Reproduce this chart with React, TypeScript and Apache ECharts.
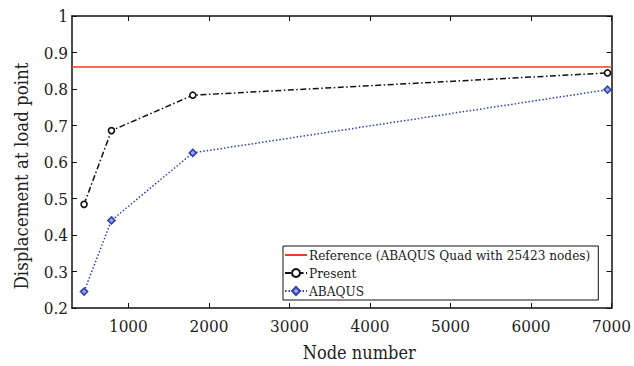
import React, { useEffect, useRef } from "react";
import * as echarts from "echarts";

const nodeNumbers = [450, 790, 1800, 6950];
const presentValues = [0.484, 0.686, 0.783, 0.844];
const abaqusValues = [0.245, 0.44, 0.625, 0.798];
const referenceX = [300, 7000];
const referenceValue = 0.86;
const xTicks = [1000, 2000, 3000, 4000, 5000, 6000, 7000];
const seriesNames = ["Reference (ABAQUS Quad with 25423 nodes)", "Present", "ABAQUS"];
const xName = "Node number";
const yName = "Displacement at load point";

const FONT = "DejaVu Serif Condensed";

export default function App() {
  const ref = useRef<HTMLDivElement>(null);
  useEffect(() => {
    if (!ref.current) return;
    const chart = echarts.init(ref.current, undefined, { renderer: "svg" });
    const axisLine = { show: true, lineStyle: { color: "#111", width: 1.5 } };
    const tick = { show: true, inside: true, length: 5, lineStyle: { color: "#111", width: 1 } };
    chart.setOption({
      animation: false,
      backgroundColor: "#fff",
      textStyle: { fontFamily: FONT },
      grid: { left: 72, right: 22, top: 16, bottom: 54, containLabel: false },
      legend: {
        orient: "vertical",
        left: 283,
        top: 246,
        padding: [2, 8, 2, 1],
        itemGap: 4,
        itemWidth: 22,
        itemHeight: 10,
        backgroundColor: "#fff",
        borderColor: "#111",
        borderWidth: 1,
        borderRadius: 0,
        textStyle: { fontFamily: FONT, fontSize: 13.5, color: "#222", padding: [0, 0, 0, -3] },
        data: [
          { name: seriesNames[0], itemStyle: { opacity: 0 } },
          { name: seriesNames[1] },
          { name: seriesNames[2] },
        ],
      },
      xAxis: [
        {
          type: "value",
          min: 300,
          max: 7000,
          name: xName,
          nameLocation: "middle",
          nameGap: 35,
          nameTextStyle: { fontFamily: FONT, fontSize: 18, color: "#222", padding: [0, 0, 0, 35] },
          axisLine,
          axisTick: { ...tick, customValues: xTicks },
          axisLabel: {
            customValues: xTicks,
            fontFamily: FONT,
            fontSize: 17,
            color: "#222",
            margin: 9,
            formatter: (v: number) => String(v),
          },
          splitLine: { show: false },
        },
        {
          type: "value",
          position: "top",
          min: 300,
          max: 7000,
          axisLine,
          axisTick: { ...tick, customValues: xTicks },
          axisLabel: { show: false },
          splitLine: { show: false },
        },
      ],
      yAxis: [
        {
          type: "value",
          min: 0.2,
          max: 1,
          interval: 0.1,
          name: yName,
          nameLocation: "middle",
          nameGap: 41,
          nameRotate: 90,
          nameTextStyle: { fontFamily: FONT, fontSize: 18.5, color: "#222", padding: [0, 28, 0, 0] },
          axisLine,
          axisTick: tick,
          axisLabel: {
            fontFamily: FONT,
            fontSize: 17,
            color: "#222",
            margin: 4,
            formatter: (v: number) => (Math.abs(v - 1) < 1e-9 ? "1" : v.toFixed(1)),
          },
          splitLine: { show: false },
        },
        {
          type: "value",
          position: "right",
          min: 0.2,
          max: 1,
          interval: 0.1,
          axisLine,
          axisTick: tick,
          axisLabel: { show: false },
          splitLine: { show: false },
        },
      ],
      series: [
        {
          name: seriesNames[0],
          type: "line",
          data: referenceX.map((x) => [x, referenceValue]),
          symbol: "none",
          lineStyle: { color: "#e8401e", width: 1.5 },
          itemStyle: { color: "#e8401e" },
          z: 3,
        },
        {
          name: seriesNames[1],
          type: "line",
          data: nodeNumbers.map((x, i) => [x, presentValues[i]]),
          symbol: "circle",
          symbolSize: 6,
          lineStyle: { color: "#111", width: 1.5, type: [6, 2.5, 1.5, 2.5] },
          itemStyle: { color: "#fff", borderColor: "#111", borderWidth: 1.6 },
          z: 4,
        },
        {
          name: seriesNames[2],
          type: "line",
          data: nodeNumbers.map((x, i) => [x, abaqusValues[i]]),
          symbol: "diamond",
          symbolSize: 7,
          lineStyle: { color: "#3040b0", width: 1.5, type: [1.5, 2] },
          itemStyle: { color: "#9aa6e0", borderColor: "#3040b0", borderWidth: 1.6 },
          z: 4,
        },
      ],
    });
    return () => chart.dispose();
  }, []);
  return (
    <div
      ref={ref}
      style={{ position: "fixed", left: 0, top: 0, width: 634, height: 366, background: "#fff" }}
    />
  );
}
